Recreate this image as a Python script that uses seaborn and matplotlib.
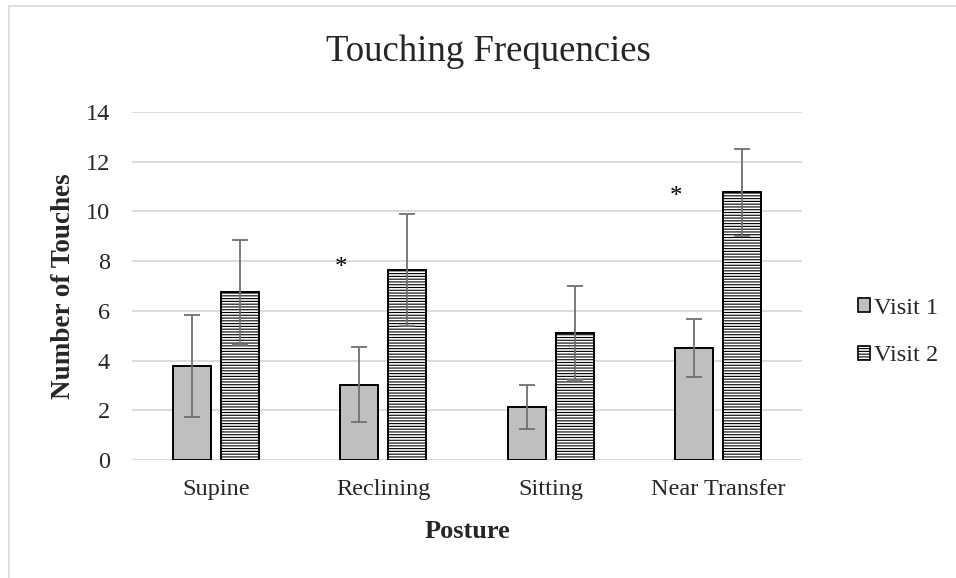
import numpy as np
import pandas as pd
import seaborn as sns
import matplotlib.pyplot as plt
from matplotlib.patches import Patch, Rectangle

# values
postures = ['Supine', 'Reclining', 'Sitting', 'Near Transfer']
visits = ['Visit 1', 'Visit 2']
visit1_mean = [3.78, 3.03, 2.13, 4.50]
visit2_mean = [6.74, 7.65, 5.12, 10.77]
visit1_err = [2.05, 1.50, 0.88, 1.16]
visit2_err = [2.10, 2.24, 1.90, 1.75]
star_postures = ['Reclining', 'Near Transfer']
star_y = [7.72, 10.6]

df = pd.DataFrame({
    'Posture': postures * 2,
    'Visit': [visits[0]] * 4 + [visits[1]] * 4,
    'Touches': visit1_mean + visit2_mean,
})

sns.set_theme(style='white')
plt.rcParams['font.family'] = ['Liberation Serif', 'DejaVu Serif']
plt.rcParams['hatch.linewidth'] = 0.8
plt.rcParams['hatch.color'] = 'black'

fig = plt.figure(figsize=(9.56, 5.78), dpi=100)
ax = fig.add_axes([132 / 956, 1 - 460 / 578, 670 / 956, 348 / 578])

# chart border like the spreadsheet frame
fig.patches.append(Rectangle((9 / 956, -0.05), 1.2, 1 - 6 / 578 + 0.05,
                             transform=fig.transFigure, fill=False,
                             edgecolor='#d9d9d9', linewidth=1.2))

sns.barplot(data=df, x='Posture', y='Touches', hue='Visit', order=postures,
            hue_order=visits, width=0.574, gap=0.21, ax=ax,
            palette=['#bfbfbf', 'white'], edgecolor='black', linewidth=1.4,
            legend=False, zorder=2)

errs = [visit1_err, visit2_err]
bar_groups = list(ax.containers)
for i, cont in enumerate(bar_groups):
    xs = [p.get_x() + p.get_width() / 2 for p in cont.patches]
    ys = [p.get_height() for p in cont.patches]
    if i == 1:
        for p in cont.patches:
            p.set_hatch('------')
    ax.errorbar(xs, ys, yerr=errs[i], fmt='none', ecolor='#707070',
                elinewidth=1.3, capsize=5.6, capthick=1.3, zorder=3)

for name, y in zip(star_postures, star_y):
    ax.text(postures.index(name) - 0.25, y, '*', ha='center', va='center',
            fontsize=18, color='black')

ax.set_ylim(0, 14)
ax.set_xlim(-0.5, 3.5)
ax.set_yticks(range(0, 15, 2))
ax.yaxis.grid(True, color='#d9d9d9', linewidth=1.3, zorder=0)
ax.set_axisbelow(True)
for s in ax.spines.values():
    s.set_visible(False)
ax.tick_params(axis='y', length=0, pad=16, labelsize=17.5)
ax.tick_params(axis='x', length=0, pad=14, labelsize=17.5)

ax.set_xlabel('Posture', fontsize=19, fontweight='bold', labelpad=14)
ax.set_ylabel('Number of Touches', fontsize=19.5, fontweight='bold', labelpad=7)

fig.text(488 / 956, 1 - 52 / 578, 'Touching Frequencies', ha='center',
         va='center', fontsize=26.5)

handles = [Patch(facecolor='#bfbfbf', edgecolor='black', linewidth=1.2),
           Patch(facecolor='white', edgecolor='black', linewidth=1.2, hatch='------')]
fig.legend(handles, visits, loc='center left',
           bbox_to_anchor=(846 / 956, 1 - 332 / 578), frameon=False,
           fontsize=17.5, handlelength=0.5, handleheight=0.5,
           handletextpad=0.15, labelspacing=1.1, borderpad=0)

fig.savefig('out.png', dpi=100)
